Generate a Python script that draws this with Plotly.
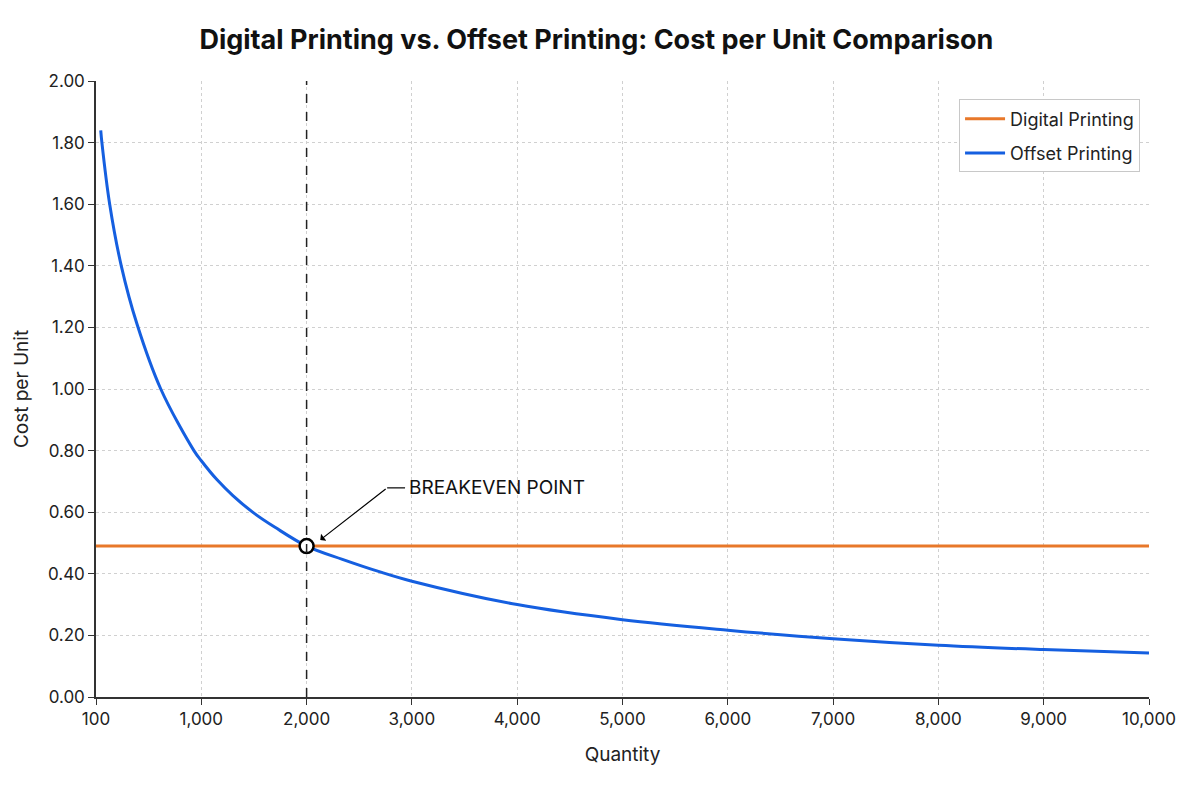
import plotly.graph_objects as go

# ---- data ----
offset_qty = [45, 56, 130, 240, 390, 615, 930, 1000, 1150, 1300, 1500, 1700, 2000, 2340, 2690,
              3000, 4000, 5000, 6000, 7000, 8000, 9000, 10000]
offset_cost = [1.84, 1.80, 1.60, 1.40, 1.21, 1.00, 0.80, 0.767, 0.705, 0.654, 0.597, 0.551, 0.49, 0.447, 0.407,
               0.376, 0.300, 0.251, 0.217, 0.189, 0.168, 0.154, 0.143]
digital_qty = [0, 10000]
digital_cost = [0.49, 0.49]

breakeven_qty = 2000
breakeven_cost = 0.49

x_tickvals = [0, 1000, 2000, 3000, 4000, 5000, 6000, 7000, 8000, 9000, 10000]
x_ticktext = ["100", "1,000", "2,000", "3,000", "4,000", "5,000", "6,000",
              "7,000", "8,000", "9,000", "10,000"]
y_tickvals = [0, 0.2, 0.4, 0.6, 0.8, 1.0, 1.2, 1.4, 1.6, 1.8, 2.0]

FONT = "Inter"
ORANGE = "#E8782A"
BLUE = "#155FE0"

fig = go.Figure()

fig.add_trace(go.Scatter(x=digital_qty, y=digital_cost, mode="lines", name="Digital Printing",
                         legendgroup="d", line=dict(color=ORANGE, width=3)))
fig.add_trace(go.Scatter(x=offset_qty, y=offset_cost, mode="lines", name="Offset Printing",
                         legendgroup="o", line=dict(color=BLUE, width=3, shape="spline", smoothing=1.0)))

# vertical dashed breakeven line
fig.add_shape(type="line", x0=breakeven_qty, x1=breakeven_qty, y0=0, y1=2.0,
              xref="x", yref="y", line=dict(color="#222", width=1.5, dash="dash"), layer="above")

# breakeven marker
fig.add_trace(go.Scatter(x=[breakeven_qty], y=[breakeven_cost], mode="markers", showlegend=False,
                         marker=dict(size=14, color="white", line=dict(color="black", width=2.5))))

# annotation: bent arrow
fig.add_shape(type="line", x0=2765, x1=2935, y0=0.679, y1=0.679, xref="x", yref="y",
              line=dict(color="black", width=1.2))
fig.add_annotation(x=2130, y=0.51, ax=2765, ay=0.679, axref="x", ayref="y", xref="x", yref="y",
                   text="", showarrow=True, arrowhead=1, arrowsize=1.2, arrowwidth=1.2,
                   arrowcolor="black", standoff=0, startstandoff=0)
fig.add_annotation(x=2950, y=0.679, xref="x", yref="y", text="BREAKEVEN POINT", showarrow=False,
                   xanchor="left", yanchor="middle",
                   font=dict(family=FONT, size=19, color="#111"))

fig.update_layout(
    width=1200, height=800,
    margin=dict(l=96, r=51, t=81, b=103),
    paper_bgcolor="white", plot_bgcolor="white",
    font=dict(family=FONT, color="#222"),
    title=dict(text="<b>Digital Printing vs. Offset Printing: Cost per Unit Comparison</b>",
               x=0.497, xanchor="center", y=0.95, yanchor="middle",
               font=dict(family=FONT, size=27, color="#111")),
    legend=dict(x=0.9915, y=0.97, xanchor="right", yanchor="top",
                bgcolor="white", bordercolor="#c8c8c8", borderwidth=1,
                font=dict(family=FONT, size=18, color="#222"),
                itemwidth=40, tracegroupgap=8),
    showlegend=True,
)

fig.update_xaxes(range=[0, 10000], tickvals=x_tickvals, ticktext=x_ticktext,
                 showline=True, linecolor="#333", linewidth=1.5,
                 ticks="outside", ticklen=6, tickcolor="#333",
                 showgrid=True, gridcolor="#d0d0d0", griddash="dot", gridwidth=1,
                 zeroline=False, tickfont=dict(family=FONT, size=17, color="#222"),
                 title=dict(text="Quantity", font=dict(family=FONT, size=19, color="#222"), standoff=20))
fig.update_yaxes(range=[0, 2.0], tickvals=y_tickvals, tickformat=".2f",
                 showline=True, linecolor="#333", linewidth=1.5,
                 ticks="outside", ticklen=6, tickcolor="#333",
                 showgrid=True, gridcolor="#d0d0d0", griddash="dot", gridwidth=1,
                 zeroline=False, tickfont=dict(family=FONT, size=17, color="#222"),
                 title=dict(text="Cost per Unit", font=dict(family=FONT, size=19, color="#222"), standoff=14))

fig.write_html("out.html")
